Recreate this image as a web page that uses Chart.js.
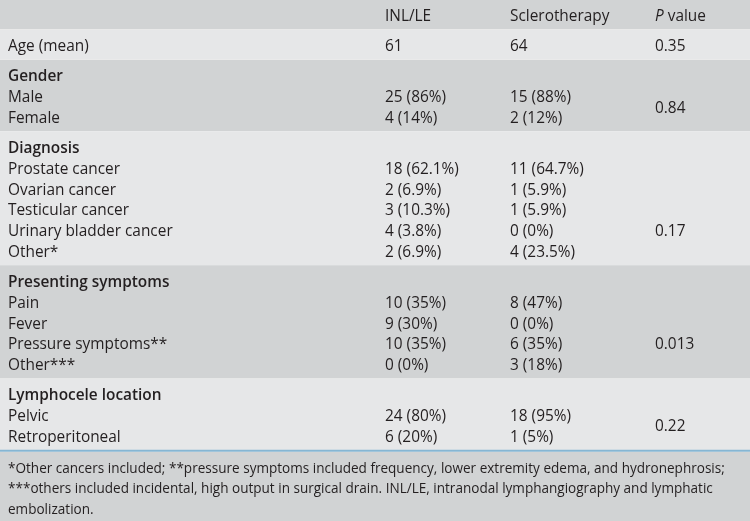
<!DOCTYPE html>
<html>
<head>
<meta charset="utf-8">
<script src="https://cdn.jsdelivr.net/npm/chart.js@4.4.1/dist/chart.umd.min.js"></script>
<style>
  html, body { margin: 0; padding: 0; background: #f4f4f4; }
  #wrap { width: 750px; height: 521px; position: relative; }
</style>
</head>
<body>
<div id="wrap"><canvas id="c"></canvas></div>
<script>
// ---------- DATA ----------
const columnHeaders = ['', 'INL/LE', 'Sclerotherapy', 'P value'];

const ageLabel = 'Age (mean)';
const ageINL = '61';
const ageScl = '64';
const ageP = '0.35';

const genderTitle = 'Gender';
const genderLabels = ['Male', 'Female'];
const genderINL = ['25 (86%)', '4 (14%)'];
const genderScl = ['15 (88%)', '2 (12%)'];
const genderP = '0.84';

const diagnosisTitle = 'Diagnosis';
const diagnosisLabels = ['Prostate cancer', 'Ovarian cancer', 'Testicular cancer', 'Urinary bladder cancer', 'Other*'];
const diagnosisINL = ['18 (62.1%)', '2 (6.9%)', '3 (10.3%)', '4 (3.8%)', '2 (6.9%)'];
const diagnosisScl = ['11 (64.7%)', '1 (5.9%)', '1 (5.9%)', '0 (0%)', '4 (23.5%)'];
const diagnosisP = '0.17';

const symptomsTitle = 'Presenting symptoms';
const symptomsLabels = ['Pain', 'Fever', 'Pressure symptoms**', 'Other***'];
const symptomsINL = ['10 (35%)', '9 (30%)', '10 (35%)', '0 (0%)'];
const symptomsScl = ['8 (47%)', '0 (0%)', '6 (35%)', '3 (18%)'];
const symptomsP = '0.013';

const locationTitle = 'Lymphocele location';
const locationLabels = ['Pelvic', 'Retroperitoneal'];
const locationINL = ['24 (80%)', '6 (20%)'];
const locationScl = ['18 (95%)', '1 (5%)'];
const locationP = '0.22';

// row (within the item rows of each group) on which the P value is printed
const pValueRow = [0.5, 3, 2, 0.5];

const footnoteLines = [
  '*Other cancers included; **pressure symptoms included frequency, lower extremity edema, and hydronephrosis;',
  '***others included incidental, high output in surgical drain. INL/LE, intranodal lymphangiography and lymphatic',
  'embolization.'
];

// ---------- TABLE STRUCTURE (built from the data) ----------
const groups = [
  { title: genderTitle, labels: genderLabels, inl: genderINL, scl: genderScl, p: genderP },
  { title: diagnosisTitle, labels: diagnosisLabels, inl: diagnosisINL, scl: diagnosisScl, p: diagnosisP },
  { title: symptomsTitle, labels: symptomsLabels, inl: symptomsINL, scl: symptomsScl, p: symptomsP },
  { title: locationTitle, labels: locationLabels, inl: locationINL, scl: locationScl, p: locationP }
];

// layout style constants
const STYLE = {
  dark: '#d1d3d4', light: '#e6e7e8', rule: '#86b6d3', text: '#231f20',
  headerH: 29, lineH: 20.8, padTop: 15.5, padBottom: 13.5, sep: 1, ruleH: 2,
  footTop: 14.5, footLine: 20.3,
  textShift: 1.6, headShift: 2, footShift: 2.2,
  colX: [8, 385, 510, 655],
  font: '"Open Sans", "Noto Sans", sans-serif', size: 15.4, footSize: 13.55
};

const bands = [];   // {from,to,color}
const cells = [];   // {text,col,y,bold,italicFirst}
let y = 0;
bands.push({ from: 0, to: STYLE.headerH, color: STYLE.dark });
columnHeaders.forEach((h, i) => { if (h) cells.push({ text: h, col: i, y: STYLE.headerH / 2 + STYLE.headShift, italicFirst: i === 3 }); });
y = STYLE.headerH + STYLE.sep;

function addSection(nLines, color) {
  const h = STYLE.padTop + STYLE.lineH * (nLines - 1) + STYLE.padBottom;
  bands.push({ from: y, to: y + h, color });
  const top = y;
  y += h + STYLE.sep;
  return i => top + STYLE.padTop + i * STYLE.lineH + STYLE.textShift;
}

// Age
{
  const at = addSection(1, STYLE.light);
  cells.push({ text: ageLabel, col: 0, y: at(0) });
  cells.push({ text: ageINL, col: 1, y: at(0) });
  cells.push({ text: ageScl, col: 2, y: at(0) });
  cells.push({ text: ageP, col: 3, y: at(0) });
}
groups.forEach((g, gi) => {
  const at = addSection(g.labels.length + 1, gi % 2 === 0 ? STYLE.dark : STYLE.light);
  cells.push({ text: g.title, col: 0, y: at(0), bold: true });
  g.labels.forEach((l, i) => {
    cells.push({ text: l, col: 0, y: at(i + 1) });
    cells.push({ text: g.inl[i], col: 1, y: at(i + 1) });
    cells.push({ text: g.scl[i], col: 2, y: at(i + 1) });
  });
  cells.push({ text: g.p, col: 3, y: at(1 + pValueRow[gi]) });
});
// blue rule under the body
y -= STYLE.sep;
bands.push({ from: y, to: y + STYLE.ruleH, color: STYLE.rule });
y += STYLE.ruleH + STYLE.sep;
const footStart = y;
footnoteLines.forEach((t, i) => cells.push({ text: t, col: 0, y: footStart + STYLE.footTop + i * STYLE.footLine + STYLE.footShift, small: true }));
const TOTAL = 521;
bands.push({ from: footStart, to: TOTAL, color: STYLE.dark });

// ---------- CHART ----------
const textPlugin = {
  id: 'tableText',
  afterDatasetsDraw(chart) {
    const { ctx, chartArea, scales } = chart;
    const ys = scales.y;
    const sx = (chartArea.right - chartArea.left) / 750;
    ctx.save();
    ctx.fillStyle = STYLE.text;
    ctx.textBaseline = 'middle';
    ctx.textAlign = 'left';
    cells.forEach(c => {
      const px = chartArea.left + STYLE.colX[c.col] * sx;
      const py = ys.getPixelForValue(c.y);
      const size = c.small ? STYLE.footSize : STYLE.size;
      if (c.italicFirst) {
        ctx.font = `italic ${size}px ${STYLE.font}`;
        const first = c.text.charAt(0);
        ctx.fillText(first, px, py);
        const w = ctx.measureText(first).width;
        ctx.font = `${size}px ${STYLE.font}`;
        ctx.fillText(c.text.slice(1), px + w, py);
      } else {
        ctx.font = `${c.bold ? '600 ' : ''}${size}px ${STYLE.font}`;
        ctx.fillText(c.text, px, py);
      }
    });
    ctx.restore();
  }
};

new Chart(document.getElementById('c'), {
  type: 'bar',
  data: {
    labels: ['table'],
    datasets: bands.map((b, i) => ({
      label: 'band' + i,
      data: [[b.from, b.to]],
      backgroundColor: b.color,
      borderWidth: 0,
      borderSkipped: false,
      grouped: false,
      barPercentage: 1,
      categoryPercentage: 1
    }))
  },
  options: {
    responsive: true,
    maintainAspectRatio: false,
    animation: false,
    events: [],
    layout: { padding: 0 },
    plugins: { legend: { display: false }, tooltip: { enabled: false }, title: { display: false } },
    scales: {
      x: { display: false, offset: true },
      y: { display: false, type: 'linear', reverse: true, min: 0, max: TOTAL }
    }
  },
  plugins: [textPlugin]
});
</script>
</body>
</html>
